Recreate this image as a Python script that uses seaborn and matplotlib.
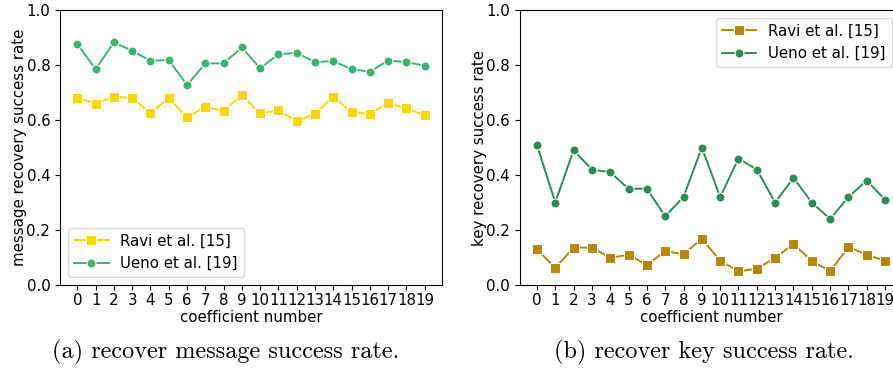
import matplotlib
matplotlib.use("Agg")
import matplotlib.pyplot as plt
import seaborn as sns
import numpy as np

coeff = list(range(20))
msg_ravi = [0.68, 0.66, 0.685, 0.68, 0.625, 0.68, 0.61, 0.647, 0.634, 0.69,
            0.624, 0.635, 0.596, 0.622, 0.685, 0.629, 0.622, 0.661, 0.642, 0.618]
msg_ueno = [0.876, 0.785, 0.882, 0.852, 0.815, 0.818, 0.727, 0.806, 0.806, 0.864,
            0.788, 0.839, 0.844, 0.81, 0.815, 0.784, 0.776, 0.816, 0.811, 0.797]
key_ravi = [0.13, 0.062, 0.136, 0.136, 0.099, 0.11, 0.073, 0.123, 0.112, 0.168,
            0.088, 0.05, 0.059, 0.099, 0.148, 0.088, 0.05, 0.138, 0.11, 0.088]
key_ueno = [0.51, 0.30, 0.49, 0.42, 0.41, 0.35, 0.35, 0.25, 0.32, 0.50,
            0.32, 0.46, 0.42, 0.30, 0.39, 0.30, 0.24, 0.32, 0.38, 0.31]
labels = ["Ravi et al. [15]", "Ueno et al. [19]"]
ylabels = ["message recovery success rate", "key recovery success rate"]
xlabel = "coefficient number"
captions = ["(a) recover message success rate.", "(b) recover key success rate."]

plt.rcParams["font.family"] = ["DejaVu Sans"]
FS = 10.8

W, H = 893, 368
fig = plt.figure(figsize=(W / 100, H / 100), dpi=100)
axL = fig.add_axes([60 / W, (H - 285) / H, 382 / W, 275 / H])
axR = fig.add_axes([519.5 / W, (H - 285) / H, 383 / W, 275 / H])

def draw(ax, ravi, ueno, cr, cu, ylabel, legloc, anchor):
    sns.lineplot(x=coeff, y=ravi, ax=ax, color=cr, marker="s", markersize=6.5,
                 linewidth=1.4, label=labels[0])
    sns.lineplot(x=coeff, y=ueno, ax=ax, color=cu, marker="o", markersize=6.5,
                 linewidth=1.4, label=labels[1])
    ax.set_ylim(0, 1.0)
    ax.set_yticks(np.arange(0, 1.01, 0.2))
    ax.set_xticks(coeff)
    ax.set_xticklabels([str(c) for c in coeff], fontsize=FS)
    ax.tick_params(axis="y", labelsize=FS)
    ax.tick_params(axis="x", pad=2.5)
    ax.set_xlabel(xlabel, fontsize=FS, labelpad=1)
    ax.set_ylabel(ylabel, fontsize=FS, labelpad=-0.5)
    ax.legend(loc=legloc, bbox_to_anchor=anchor, fontsize=FS, borderaxespad=0,
              handlelength=2.3)

draw(axL, msg_ravi, msg_ueno, "#FFD700", "#3CB371", ylabels[0], "lower left",
     (8 / 382, 8 / 275))
draw(axR, key_ravi, key_ueno, "#B8860B", "#2E8B57", ylabels[1], "upper right",
     (372.5 / 383, 1 - 7.5 / 275))

fig.text(226 / W, 1 - 352 / H, captions[0], ha="center", va="center",
         fontsize=17.5, family="cmr10")
fig.text(704 / W, 1 - 352 / H, captions[1], ha="center", va="center",
         fontsize=17.5, family="cmr10")

fig.savefig("out.png", dpi=100)
